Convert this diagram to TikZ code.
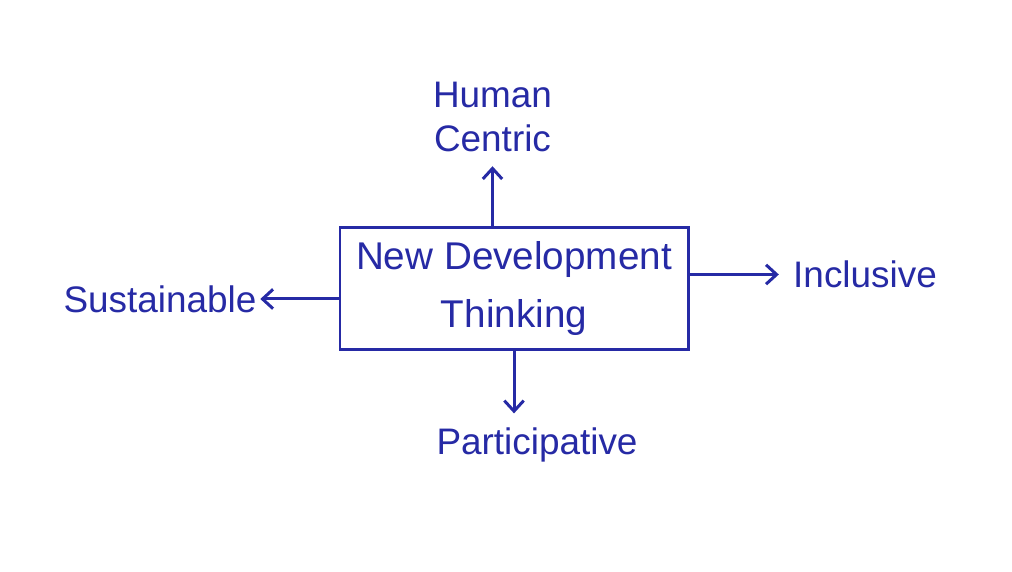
\documentclass[tikz,border=0pt]{standalone}
\usepackage{fontspec}
\setmainfont{Liberation Sans}
\usetikzlibrary{arrows.meta}
\definecolor{ink}{RGB}{38,42,165}
\tikzset{
  lbl/.style={text=ink,font=\fontsize{21}{25}\selectfont,align=center,inner sep=2pt},
  ndtbox/.style={draw=ink,line width=1.7pt,minimum width=6.96cm,minimum height=2.44cm,text=ink,font=\fontsize{22}{33}\selectfont,align=center},
  arr/.style={draw=ink,line width=1.7pt,-{Straight Barb[length=6pt,width=11pt]}}
}
\begin{document}
\begin{tikzpicture}
\useasboundingbox[fill=white] (0,0) rectangle (20.24,11.44);
\node[ndtbox] (ndt) at (10.28,5.66) {New Development\\Thinking};
\node[lbl] (hc) at (9.85,9.1) {Human\\Centric};
\node[lbl] (pa) at (10.74,2.54) {Participative};
\node[lbl] (inc) at (17.3,5.95) {Inclusive};
\node[lbl] (sus) at (3.2,5.46) {Sustainable};
\draw[arr,shorten >=6pt] (ndt.north -| hc) -- (hc.south);
\draw[arr,shorten >=6pt] (ndt.south) -- (ndt.south |- pa.north);
\draw[arr,shorten >=6pt] (ndt.east |- inc) -- (inc.west);
\draw[arr] (ndt.west |- sus) -- (sus.east);
\end{tikzpicture}
\end{document}
